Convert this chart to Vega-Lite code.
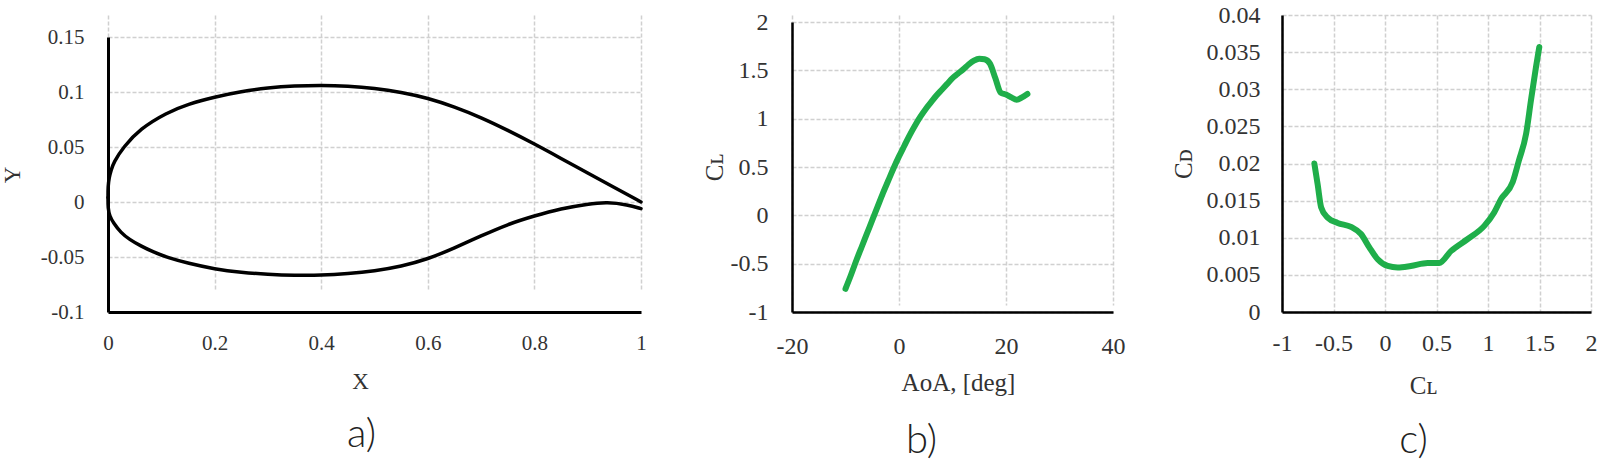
{
  "$schema": "https://vega.github.io/schema/vega-lite/v6.json",
  "background": "white",
  "padding": {"left": 1, "top": 3, "right": 0, "bottom": 0},
  "bounds": "flush",
  "spacing": 151,
  "config": {
    "view": {"stroke": null},
    "axis": {
      "labelFont": "Liberation Serif",
      "titleFont": "Liberation Serif",
      "labelColor": "#333333",
      "titleColor": "#333333",
      "titleFontWeight": "normal",
      "ticks": false,
      "tickSize": 0,
      "labelFlush": false,
      "labelOverlap": false,
      "domainColor": "#000000",
      "gridColor": "#d0d0d0",
      "gridWidth": 1.5,
      "gridDash": [4, 2],
      "labelExpr": "'' + datum.value"
    },
    "title": {"font": "Lato", "fontWeight": 300, "fontSize": 40, "color": "#222222"}
  },
  "hconcat": [
    {
      "width": 533,
      "height": 297,
      "title": {"text": "a)", "orient": "bottom", "dx": -13, "offset": 22},
      "data": {"values": [
        {"s": "u", "x": 0, "y": 0.004}, {"s": "u", "x": 0, "y": 0.014}, {"s": "u", "x": 0.002, "y": 0.022},
        {"s": "u", "x": 0.006, "y": 0.029}, {"s": "u", "x": 0.0105, "y": 0.036}, {"s": "u", "x": 0.029, "y": 0.050},
        {"s": "u", "x": 0.06, "y": 0.0665}, {"s": "u", "x": 0.11, "y": 0.0812}, {"s": "u", "x": 0.15, "y": 0.089},
        {"s": "u", "x": 0.2, "y": 0.0955}, {"s": "u", "x": 0.25, "y": 0.1005}, {"s": "u", "x": 0.3, "y": 0.1038},
        {"s": "u", "x": 0.35, "y": 0.1056}, {"s": "u", "x": 0.4, "y": 0.1062}, {"s": "u", "x": 0.45, "y": 0.1055},
        {"s": "u", "x": 0.5, "y": 0.1035}, {"s": "u", "x": 0.55, "y": 0.0998}, {"s": "u", "x": 0.6, "y": 0.0945},
        {"s": "u", "x": 0.65, "y": 0.0865}, {"s": "u", "x": 0.7, "y": 0.0768}, {"s": "u", "x": 0.75, "y": 0.0652},
        {"s": "u", "x": 0.8, "y": 0.0528}, {"s": "u", "x": 0.85, "y": 0.0396}, {"s": "u", "x": 0.9, "y": 0.0264},
        {"s": "u", "x": 0.95, "y": 0.0132}, {"s": "u", "x": 1.0, "y": 0.0},
        {"s": "l", "x": 0, "y": 0.004}, {"s": "l", "x": 0, "y": -0.006}, {"s": "l", "x": 0.003, "y": -0.0125},
        {"s": "l", "x": 0.01, "y": -0.019}, {"s": "l", "x": 0.024, "y": -0.0278}, {"s": "l", "x": 0.04, "y": -0.034},
        {"s": "l", "x": 0.0615, "y": -0.040}, {"s": "l", "x": 0.085, "y": -0.0455}, {"s": "l", "x": 0.112, "y": -0.0506},
        {"s": "l", "x": 0.15, "y": -0.0557}, {"s": "l", "x": 0.2, "y": -0.061}, {"s": "l", "x": 0.25, "y": -0.064},
        {"s": "l", "x": 0.3, "y": -0.0657}, {"s": "l", "x": 0.35, "y": -0.0667}, {"s": "l", "x": 0.4, "y": -0.0667},
        {"s": "l", "x": 0.45, "y": -0.0652}, {"s": "l", "x": 0.5, "y": -0.0627}, {"s": "l", "x": 0.55, "y": -0.0585},
        {"s": "l", "x": 0.6, "y": -0.052}, {"s": "l", "x": 0.65, "y": -0.0418}, {"s": "l", "x": 0.7, "y": -0.0308},
        {"s": "l", "x": 0.75, "y": -0.0202}, {"s": "l", "x": 0.8, "y": -0.0126}, {"s": "l", "x": 0.85, "y": -0.006},
        {"s": "l", "x": 0.9, "y": -0.0018}, {"s": "l", "x": 0.937, "y": 0.0}, {"s": "l", "x": 0.975, "y": -0.0025},
        {"s": "l", "x": 1.0, "y": -0.006}
      ]},
      "mark": {"type": "line", "color": "#000000", "strokeWidth": 3.5, "interpolate": "basis", "strokeCap": "round"},
      "encoding": {
        "detail": {"field": "s"},
        "x": {
          "field": "x", "type": "quantitative",
          "scale": {"domain": [0, 1], "nice": false, "zero": false},
          "axis": {"title": "X", "values": [0, 0.2, 0.4, 0.6, 0.8, 1], "labelFontSize": 21, "titleFontSize": 23,
                   "labelPadding": 20, "titlePadding": 17, "domainWidth": 3, "titleX": 252}
        },
        "y": {
          "field": "y", "type": "quantitative",
          "scale": {"domain": [-0.1, 0.15], "nice": false, "zero": false, "range": [297, 22]},
          "axis": {"title": "Y", "values": [-0.1, -0.05, 0, 0.05, 0.1, 0.15], "labelFontSize": 21, "titleFontSize": 23,
                   "labelPadding": 24, "titlePadding": 16, "domainWidth": 3}
        }
      }
    },
    {
      "width": 339,
      "height": 297,
      "title": {"text": "b)", "orient": "bottom", "dx": -40, "offset": 26},
      "data": {"values": [
        {"aoa": -10, "cl": -0.76}, {"aoa": -9, "cl": -0.62}, {"aoa": -8, "cl": -0.47}, {"aoa": -7, "cl": -0.33},
        {"aoa": -6, "cl": -0.19}, {"aoa": -5, "cl": -0.05}, {"aoa": -4, "cl": 0.09}, {"aoa": -3, "cl": 0.23},
        {"aoa": -2, "cl": 0.36}, {"aoa": -1, "cl": 0.49}, {"aoa": 0, "cl": 0.61}, {"aoa": 1, "cl": 0.72},
        {"aoa": 2, "cl": 0.83}, {"aoa": 3, "cl": 0.93}, {"aoa": 4, "cl": 1.02}, {"aoa": 5, "cl": 1.10},
        {"aoa": 6, "cl": 1.17}, {"aoa": 7, "cl": 1.24}, {"aoa": 8, "cl": 1.30}, {"aoa": 9, "cl": 1.36},
        {"aoa": 10, "cl": 1.42}, {"aoa": 11, "cl": 1.465}, {"aoa": 12, "cl": 1.51}, {"aoa": 13, "cl": 1.56},
        {"aoa": 14, "cl": 1.60}, {"aoa": 15, "cl": 1.62}, {"aoa": 16, "cl": 1.615}, {"aoa": 17, "cl": 1.57},
        {"aoa": 18, "cl": 1.42}, {"aoa": 19, "cl": 1.27}, {"aoa": 20, "cl": 1.25}, {"aoa": 21, "cl": 1.22},
        {"aoa": 22, "cl": 1.195}, {"aoa": 23, "cl": 1.22}, {"aoa": 24, "cl": 1.255}
      ]},
      "mark": {"type": "line", "color": "#1fae4a", "strokeWidth": 6, "interpolate": "monotone", "strokeCap": "round", "strokeJoin": "round"},
      "encoding": {
        "x": {
          "field": "aoa", "type": "quantitative",
          "scale": {"domain": [-20, 40], "nice": false, "zero": false, "range": [0, 321]},
          "axis": {"title": "AoA, [deg]", "values": [-20, 0, 20, 40], "labelFontSize": 24, "titleFontSize": 25,
                   "labelPadding": 22, "titlePadding": 12, "domainWidth": 2.5, "titleX": 166}
        },
        "y": {
          "field": "cl", "type": "quantitative",
          "scale": {"domain": [-1, 2], "nice": false, "zero": false, "range": [297, 7]},
          "axis": {"title": "Cʟ", "values": [-1, -0.5, 0, 0.5, 1, 1.5, 2], "labelFontSize": 24, "titleFontSize": 25,
                   "labelPadding": 24, "titlePadding": 3, "domainWidth": 2.5}
        }
      }
    },
    {
      "width": 309,
      "height": 297,
      "title": {"text": "c)", "orient": "bottom", "dx": -23, "offset": 23},
      "data": {"values": [
        {"cl": -0.686, "cd": 0.0200}, {"cl": -0.654, "cd": 0.0172}, {"cl": -0.62, "cd": 0.0141},
        {"cl": -0.557, "cd": 0.0127}, {"cl": -0.46, "cd": 0.0120}, {"cl": -0.33, "cd": 0.01146},
        {"cl": -0.233, "cd": 0.0105}, {"cl": -0.152, "cd": 0.0087}, {"cl": -0.071, "cd": 0.0071},
        {"cl": 0.026, "cd": 0.0062}, {"cl": 0.123, "cd": 0.0060}, {"cl": 0.25, "cd": 0.0062},
        {"cl": 0.414, "cd": 0.0066}, {"cl": 0.527, "cd": 0.0066}, {"cl": 0.64, "cd": 0.0082},
        {"cl": 0.80, "cd": 0.0098}, {"cl": 0.964, "cd": 0.0116}, {"cl": 1.06, "cd": 0.0134},
        {"cl": 1.126, "cd": 0.0152}, {"cl": 1.24, "cd": 0.0175}, {"cl": 1.30, "cd": 0.0204},
        {"cl": 1.37, "cd": 0.0240}, {"cl": 1.417, "cd": 0.0285}, {"cl": 1.466, "cd": 0.0330},
        {"cl": 1.498, "cd": 0.0357}
      ]},
      "mark": {"type": "line", "color": "#1fae4a", "strokeWidth": 6, "interpolate": "monotone", "strokeCap": "round", "strokeJoin": "round"},
      "encoding": {
        "x": {
          "field": "cl", "type": "quantitative",
          "scale": {"domain": [-1, 2], "nice": false, "zero": false},
          "axis": {"title": "Cʟ", "values": [-1, -0.5, 0, 0.5, 1, 1.5, 2], "labelFontSize": 24, "titleFontSize": 25,
                   "labelPadding": 19, "titlePadding": 18, "domainWidth": 2.5, "titleX": 141}
        },
        "y": {
          "field": "cd", "type": "quantitative",
          "scale": {"domain": [0, 0.04], "nice": false, "zero": false},
          "axis": {"title": "Cᴅ", "values": [0, 0.005, 0.01, 0.015, 0.02, 0.025, 0.03, 0.035, 0.04], "labelFontSize": 24, "titleFontSize": 25,
                   "labelPadding": 22, "titlePadding": 10, "domainWidth": 2.5}
        }
      }
    }
  ]
}
